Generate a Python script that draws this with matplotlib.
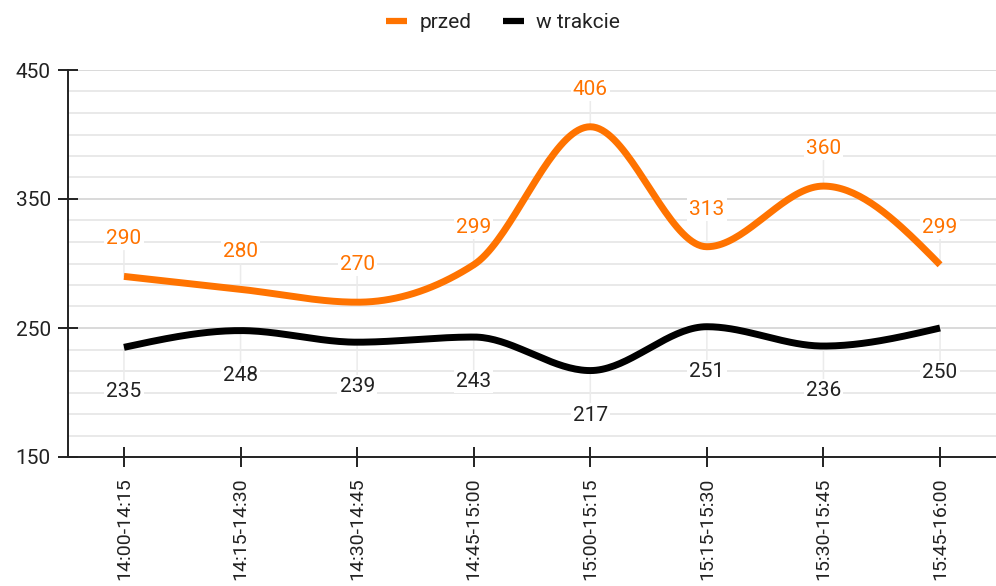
import numpy as np
import matplotlib
matplotlib.use('Agg')
import matplotlib.pyplot as plt
from matplotlib.lines import Line2D

plt.rcParams['font.family'] = ['Roboto', 'DejaVu Sans']

# -------------------------------------------------------------
# DATA
# -------------------------------------------------------------
categories = ['14:00-14:15', '14:15-14:30', '14:30-14:45', '14:45-15:00',
              '15:00-15:15', '15:15-15:30', '15:30-15:45', '15:45-16:00']
przed = [290, 280, 270, 299, 406, 313, 360, 299]
w_trakcie = [235, 248, 239, 243, 217, 251, 236, 250]
y_ticks = [150, 250, 350, 450]

ORANGE = '#ff7300'
TEXT = '#222222'


# monotone cubic curve (same idea as d3 curveMonotoneX)
def monotone(xs, ys, n=40):
    xs = np.asarray(xs, float)
    ys = np.asarray(ys, float)
    h = np.diff(xs)
    s = np.diff(ys) / h
    t = np.zeros(len(xs))
    for i in range(1, len(xs) - 1):
        p = (s[i - 1] * h[i] + s[i] * h[i - 1]) / (h[i - 1] + h[i])
        t[i] = (np.sign(s[i - 1]) + np.sign(s[i])) * min(abs(s[i - 1]), abs(s[i]), 0.5 * abs(p))
    t[0] = (3 * s[0] - t[1]) / 2
    t[-1] = (3 * s[-1] - t[-2]) / 2
    out_x, out_y = [], []
    for i in range(len(xs) - 1):
        u = np.linspace(0, 1, n)
        h00 = 2 * u**3 - 3 * u**2 + 1
        h10 = u**3 - 2 * u**2 + u
        h01 = -2 * u**3 + 3 * u**2
        h11 = u**3 - u**2
        out_x.append(xs[i] + u * h[i])
        out_y.append(h00 * ys[i] + h10 * h[i] * t[i] + h01 * ys[i + 1] + h11 * h[i] * t[i + 1])
    return np.concatenate(out_x), np.concatenate(out_y)


x = np.arange(len(categories))

fig = plt.figure(figsize=(9.96, 5.86), dpi=100)
ax = fig.add_axes([68 / 996, 129 / 586, 1 - 68 / 996, 387 / 586])

cx, cy = monotone(x, przed)
ax.plot(cx, cy, color=ORANGE, lw=5, solid_capstyle='butt', zorder=3)
cx, cy = monotone(x, w_trakcie)
ax.plot(cx, cy, color='black', lw=5, solid_capstyle='butt', zorder=3)

# data labels with leader lines
for xi, v in zip(x, przed):
    ax.annotate(str(v), (xi, v), xytext=(0, 27), textcoords='offset points',
                ha='center', va='center', fontsize=15, color=ORANGE, zorder=1,
                bbox=dict(boxstyle='square,pad=0.1', fc='white', ec='none'),
                arrowprops=dict(arrowstyle='-', color='#ebebeb', lw=1.1,
                                shrinkA=0, shrinkB=0))
for xi, v in zip(x, w_trakcie):
    ax.annotate(str(v), (xi, v), xytext=(0, -32), textcoords='offset points',
                ha='center', va='center', fontsize=15, color=TEXT, zorder=1,
                bbox=dict(boxstyle='square,pad=0.1', fc='white', ec='none'),
                arrowprops=dict(arrowstyle='-', color='#ebebeb', lw=1.1,
                                shrinkA=0, shrinkB=0))

ax.set_xlim(-0.48, len(categories) - 1 + 0.48)
ax.set_ylim(150, 450)
ax.set_yticks(y_ticks)
ax.set_yticks(np.linspace(150, 450, 19), minor=True)
ax.set_xticks(x)
ax.set_xticklabels(categories, rotation=90, fontsize=14, color=TEXT)
ax.tick_params(axis='y', labelsize=15, labelcolor=TEXT)
ax.tick_params(axis='both', which='major', direction='inout', length=15,
               width=1.4, color='#222222')
ax.tick_params(axis='y', which='major', pad=5)
ax.tick_params(axis='y', which='minor', length=0)
ax.tick_params(axis='x', pad=7)

ax.set_axisbelow(True)
ax.grid(axis='y', which='major', color='#d0d0d0', lw=1.1)
ax.grid(axis='y', which='minor', color='#e3e3e3', lw=1.1)

for side in ['top', 'right']:
    ax.spines[side].set_visible(False)
for side in ['left', 'bottom']:
    ax.spines[side].set_linewidth(1.4)
    ax.spines[side].set_color('#222222')

handles = [Line2D([], [], color=ORANGE, lw=4.5, solid_capstyle='butt'),
           Line2D([], [], color='black', lw=4.5, solid_capstyle='butt')]
fig.legend(handles, ['przed', 'w trakcie'], loc='upper center',
           bbox_to_anchor=(0.505, 1.01), ncol=2, frameon=False, fontsize=15,
           handlelength=1.0, handletextpad=0.6, columnspacing=1.5,
           labelcolor=TEXT)

fig.savefig('out.png', dpi=100)
